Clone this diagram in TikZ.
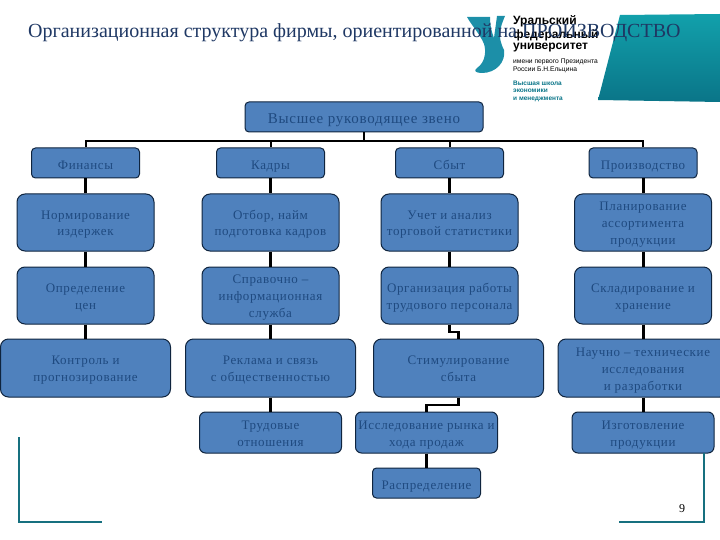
\documentclass[tikz,border=0pt]{standalone}
\usepackage{fontspec}
\setmainfont{Liberation Serif}
\newfontfamily\boxfont[LetterSpace=5]{Liberation Serif}
\newfontfamily\logofont{Liberation Sans}
\definecolor{boxblue}{HTML}{4F81BD}
\definecolor{boxedge}{HTML}{0F243E}
\definecolor{boxtext}{HTML}{1F4A80}
\definecolor{titletext}{HTML}{1F3864}
\definecolor{tealtop}{HTML}{12A0AB}
\definecolor{tealbottom}{HTML}{0A7588}
\definecolor{logoteal}{HTML}{1C8FA8}
\definecolor{cornerteal}{HTML}{17707F}
\newcommand{\boxstrut}[1]{\rule[-5pt]{0pt}{#1}}
\tikzset{
  orgbox/.style={draw=boxedge, line width=1pt, fill=boxblue, text=boxtext, inner sep=0pt, align=center,
    font=\boxfont\fontsize{13}{17}\selectfont,
    execute at end node=\boxstrut{19pt}},
  headbox/.style={orgbox, minimum width=108pt, minimum height=30pt, rounded corners=4pt,
    execute at begin node=\boxstrut{23pt}},
  bigbox/.style={orgbox, minimum width=137pt, minimum height=57pt, rounded corners=8pt,
    execute at begin node=\boxstrut{37pt}},
  widebox/.style={orgbox, minimum width=170pt, minimum height=58pt, rounded corners=8pt,
    execute at begin node=\boxstrut{37pt}},
  lowbox/.style={orgbox, minimum width=142pt, minimum height=41pt, rounded corners=6pt,
    execute at begin node=\boxstrut{37pt}},
  threelines/.style={execute at begin node=\boxstrut{54pt}},
  logoname/.style={anchor=west, inner sep=0pt, font=\logofont\bfseries\fontsize{12}{12}\selectfont},
  busline/.style={black, line width=2pt},
  stemline/.style={black, line width=3pt},
  cornerline/.style={cornerteal, line width=2.5pt},
}
\begin{document}
\begin{tikzpicture}[x=1pt, y=-1pt]
\useasboundingbox (0,0) rectangle (720,540);

% logo
\shade[top color=tealtop, bottom color=tealbottom] (620,15) -- (720,14) -- (720,102) -- (598,100) -- cycle;
\fill[logoteal] (467,17) -- (490,17) .. controls (490,26) and (492,33) .. (494,38) .. controls (495,30) and (496,24) .. (497,16)
  -- (505,16) .. controls (500,28) and (497,36) .. (504,50) .. controls (506,62) and (496,73) .. (482,73)
  .. controls (476,73) and (473,71) .. (477,68) .. controls (486,62) and (486,50) .. (484,44) .. controls (480,34) and (472,26) .. (467,17) -- cycle;
\node[logoname] (ural) at (513,21) {Уральский};
\node[logoname] (feder) at (513,35) {федеральный};
\node[logoname] (univ) at (513,48) {университет};
\node[anchor=west, inner sep=0pt, font=\logofont\fontsize{6.7}{8}\selectfont, align=left] (imeni) at (513,66) {имени первого Президента\\России Б.Н.Ельцина};
\node[anchor=west, inner sep=0pt, text=tealbottom, font=\logofont\bfseries\fontsize{6.5}{7.5}\selectfont, align=left] (school) at (513,91) {Высшая школа\\экономики\\и менеджмента};

% title
\node[anchor=west, inner sep=0pt, text=titletext, font=\fontsize{20}{24}\selectfont] (title) at (28,33) {Организационная структура фирмы, ориентированной на ПРОИЗВОДСТВО};

% boxes
\node[orgbox, minimum width=238pt, minimum height=30pt, rounded corners=4pt, font=\boxfont\fontsize{15}{17}\selectfont, execute at begin node=\boxstrut{23pt}] (top) at (364,117) {Высшее руководящее звено};

\node[headbox] (finance) at (85.5,163) {Финансы};
\node[headbox] (staff) at (270.5,163) {Кадры};
\node[headbox] (sales) at (449.5,163) {Сбыт};
\node[headbox] (prod) at (643,163) {Производство};

\node[bigbox] (norm) at (85.5,222.5) {Нормирование\\издержек};
\node[bigbox] (hire) at (270.5,222.5) {Отбор, найм\\подготовка кадров};
\node[bigbox] (stats) at (449.5,222.5) {Учет и анализ\\торговой статистики};
\node[bigbox, threelines] (plan) at (643,222.5) {Планирование\\ассортимента\\продукции};

\node[bigbox] (price) at (85.5,295.5) {Определение\\цен};
\node[bigbox, threelines] (info) at (270.5,295.5) {Справочно –\\информационная\\служба};
\node[bigbox] (work) at (449.5,295.5) {Организация работы\\трудового персонала};
\node[bigbox] (store) at (643,295.5) {Складирование и\\хранение};

\node[widebox] (control) at (85.5,368) {Контроль и\\прогнозирование};
\node[widebox] (promo) at (270.5,368) {Реклама и связь\\с общественностью};
\node[widebox] (stim) at (458.5,368) {Стимулирование\\сбыта};
\node[widebox, threelines] (rnd) at (643,368) {Научно – технические\\исследования\\и разработки};

\node[lowbox] (labour) at (270.5,432.5) {Трудовые\\отношения};
\node[lowbox] (market) at (426.5,432.5) {Исследование рынка и\\хода продаж};
\node[lowbox] (make) at (643,432.5) {Изготовление\\продукции};
\node[headbox] (distr) at (426.5,483) {Распределение};

% connectors
\coordinate (bus) at (364,141);
\draw[busline] (top.south) -- (bus);
\draw[busline] (finance.north) |- (bus);
\draw[busline] (staff.north) |- (bus);
\draw[busline] (sales.north) |- (bus);
\draw[busline] (prod.north) |- (bus);

\draw[stemline] (finance) -- (norm);
\draw[stemline] (norm) -- (price);
\draw[stemline] (price) -- (control);
\draw[stemline] (staff) -- (hire);
\draw[stemline] (hire) -- (info);
\draw[stemline] (info) -- (promo);
\draw[stemline] (promo) -- (labour);
\draw[stemline] (sales) -- (stats);
\draw[stemline] (stats) -- (work);
\draw[stemline] (prod) -- (plan);
\draw[stemline] (plan) -- (store);
\draw[stemline] (store) -- (rnd);
\draw[stemline] (rnd) -- (make);
\draw[stemline] (market) -- (distr);
\draw[line width=2.5pt] (work.south) |- (458.5,332) -- (stim.north);
\draw[line width=2.5pt] (stim.south) |- (426.5,405) -- (market.north);

% corners
\coordinate (cornerA) at (19,437);
\coordinate (cornerB) at (19,522);
\coordinate (cornerC) at (102,522);
\coordinate (cornerD) at (704,453);
\coordinate (cornerE) at (704,522);
\coordinate (cornerF) at (619,522);
\draw[cornerline] (cornerA) -- (cornerB) -- (cornerC);
\draw[cornerline] (cornerD) -- (cornerE) -- (cornerF);
\node[inner sep=0pt, font=\fontsize{12}{12}\selectfont] (pagenum) at (682,509) {9};
\end{tikzpicture}
\end{document}
